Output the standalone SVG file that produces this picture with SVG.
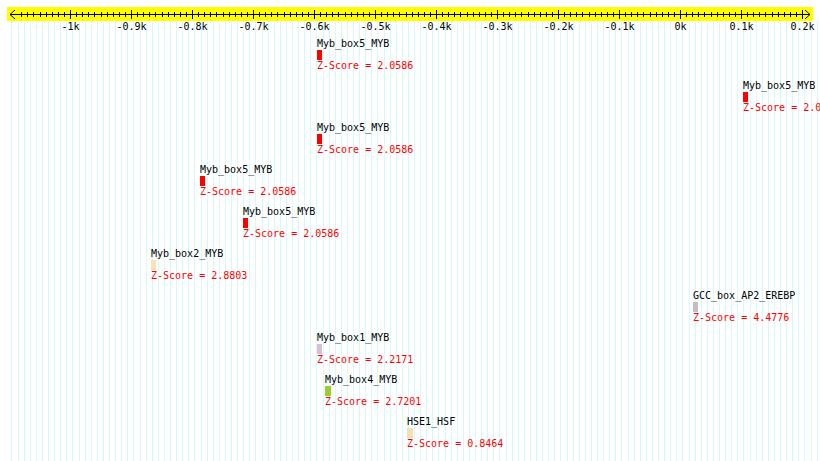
<svg xmlns="http://www.w3.org/2000/svg" width="820" height="461" viewBox="0 0 820 461">
<style>
text{font-family:"DejaVu Sans Mono","Liberation Mono",monospace;font-size:10px}
.lab{fill:#000}
.z{fill:#ff0000}
.ax{fill:#000;text-anchor:middle}
.grid{stroke:#d6fafa;stroke-width:1;fill:none}
.tick{stroke:#000;stroke-width:1;fill:none}
</style>
<rect width="820" height="461" fill="#ffffff"/>
<g id="grid">
<path class="grid" shape-rendering="crispEdges" d="M11.9 21V461M18 21V461M24.1 21V461M30.2 21V461M36.3 21V461M42.4 21V461M48.5 21V461M54.6 21V461M60.7 21V461M66.8 21V461M72.9 21V461M79 21V461M85.1 21V461M91.2 21V461M97.3 21V461M103.4 21V461M109.5 21V461M115.6 21V461M121.7 21V461M127.8 21V461M133.9 21V461M140 21V461M146.1 21V461M152.2 21V461M158.3 21V461M164.4 21V461M170.5 21V461M176.6 21V461M182.7 21V461M188.8 21V461M194.9 21V461M201 21V461M207.1 21V461M213.2 21V461M219.3 21V461M225.4 21V461M231.5 21V461M237.6 21V461M243.7 21V461M249.8 21V461M255.9 21V461M262 21V461M268.1 21V461M274.2 21V461M280.3 21V461M286.4 21V461M292.5 21V461M298.6 21V461M304.7 21V461M310.8 21V461M316.9 21V461M323 21V461M329.1 21V461M335.2 21V461M341.3 21V461M347.4 21V461M353.5 21V461M359.6 21V461M365.7 21V461M371.8 21V461M377.9 21V461M384 21V461M390.1 21V461M396.2 21V461M402.3 21V461M408.4 21V461M414.5 21V461M420.6 21V461M426.7 21V461M432.8 21V461M438.9 21V461M445 21V461M451.1 21V461M457.2 21V461M463.3 21V461M469.4 21V461M475.5 21V461M481.6 21V461M487.7 21V461M493.8 21V461M499.9 21V461M506 21V461M512.1 21V461M518.2 21V461M524.3 21V461M530.4 21V461M536.5 21V461M542.6 21V461M548.7 21V461M554.8 21V461M560.9 21V461M567 21V461M573.1 21V461M579.2 21V461M585.3 21V461M591.4 21V461M597.5 21V461M603.6 21V461M609.7 21V461M615.8 21V461M621.9 21V461M628 21V461M634.1 21V461M640.2 21V461M646.3 21V461M652.4 21V461M658.5 21V461M664.6 21V461M670.7 21V461M676.8 21V461M682.9 21V461M689 21V461M695.1 21V461M701.2 21V461M707.3 21V461M713.4 21V461M719.5 21V461M725.6 21V461M731.7 21V461M737.8 21V461M743.9 21V461M750 21V461M756.1 21V461M762.2 21V461M768.3 21V461M774.4 21V461M780.5 21V461M786.6 21V461M792.7 21V461M798.8 21V461M804.9 21V461M811 21V461M817.1 21V461"/>
</g>
<g id="axis">
<rect x="7" y="7" width="806" height="14" fill="#ffff00"/>
<path class="tick" d="M10 14.5H810M15 10L10 14.5L15 19M805 10L810 14.5L805 19"/>
<path class="tick" shape-rendering="crispEdges" d="M21.7 12V17M27.8 12V17M33.9 12V17M40 12V17M46.1 12V17M52.2 12V17M58.3 12V17M64.4 12V17M76.6 12V17M82.7 12V17M88.8 12V17M94.9 12V17M101 12V17M107.1 12V17M113.2 12V17M119.3 12V17M125.4 12V17M137.6 12V17M143.7 12V17M149.8 12V17M155.9 12V17M162 12V17M168.1 12V17M174.2 12V17M180.3 12V17M186.4 12V17M198.6 12V17M204.7 12V17M210.8 12V17M216.9 12V17M223 12V17M229.1 12V17M235.2 12V17M241.3 12V17M247.4 12V17M259.6 12V17M265.7 12V17M271.8 12V17M277.9 12V17M284 12V17M290.1 12V17M296.2 12V17M302.3 12V17M308.4 12V17M320.6 12V17M326.7 12V17M332.8 12V17M338.9 12V17M345 12V17M351.1 12V17M357.2 12V17M363.3 12V17M369.4 12V17M381.6 12V17M387.7 12V17M393.8 12V17M399.9 12V17M406 12V17M412.1 12V17M418.2 12V17M424.3 12V17M430.4 12V17M442.6 12V17M448.7 12V17M454.8 12V17M460.9 12V17M467 12V17M473.1 12V17M479.2 12V17M485.3 12V17M491.4 12V17M503.6 12V17M509.7 12V17M515.8 12V17M521.9 12V17M528 12V17M534.1 12V17M540.2 12V17M546.3 12V17M552.4 12V17M564.6 12V17M570.7 12V17M576.8 12V17M582.9 12V17M589 12V17M595.1 12V17M601.2 12V17M607.3 12V17M613.4 12V17M625.6 12V17M631.7 12V17M637.8 12V17M643.9 12V17M650 12V17M656.1 12V17M662.2 12V17M668.3 12V17M674.4 12V17M686.6 12V17M692.7 12V17M698.8 12V17M704.9 12V17M711 12V17M717.1 12V17M723.2 12V17M729.3 12V17M735.4 12V17M747.6 12V17M753.7 12V17M759.8 12V17M765.9 12V17M772 12V17M778.1 12V17M784.2 12V17M790.3 12V17M796.4 12V17M70.5 10V19M131.5 10V19M192.5 10V19M253.5 10V19M314.5 10V19M375.5 10V19M436.5 10V19M497.5 10V19M558.5 10V19M619.5 10V19M680.5 10V19M741.5 10V19M802.5 10V19"/>
<text class="ax" x="70.5" y="29.5">-1k</text>
<text class="ax" x="131.5" y="29.5">-0.9k</text>
<text class="ax" x="192.5" y="29.5">-0.8k</text>
<text class="ax" x="253.5" y="29.5">-0.7k</text>
<text class="ax" x="314.5" y="29.5">-0.6k</text>
<text class="ax" x="375.5" y="29.5">-0.5k</text>
<text class="ax" x="436.5" y="29.5">-0.4k</text>
<text class="ax" x="497.5" y="29.5">-0.3k</text>
<text class="ax" x="558.5" y="29.5">-0.2k</text>
<text class="ax" x="619.5" y="29.5">-0.1k</text>
<text class="ax" x="680.5" y="29.5">0k</text>
<text class="ax" x="741.5" y="29.5">0.1k</text>
<text class="ax" x="802.5" y="29.5">0.2k</text>
</g>
<g id="site1"><text class="lab" x="317" y="47">Myb_box5_MYB</text><rect x="317" y="50" width="5" height="10" fill="#ff0000"/><text class="z" x="317" y="69">Z-Score = 2.0586</text></g>
<g id="site2"><text class="lab" x="743" y="89">Myb_box5_MYB</text><rect x="743" y="92" width="5" height="10" fill="#ff0000"/><text class="z" x="743" y="111">Z-Score = 2.0586</text></g>
<g id="site3"><text class="lab" x="317" y="131">Myb_box5_MYB</text><rect x="317" y="134" width="5" height="10" fill="#ff0000"/><text class="z" x="317" y="153">Z-Score = 2.0586</text></g>
<g id="site4"><text class="lab" x="200" y="173">Myb_box5_MYB</text><rect x="200" y="176" width="5" height="10" fill="#ff0000"/><text class="z" x="200" y="195">Z-Score = 2.0586</text></g>
<g id="site5"><text class="lab" x="243" y="215">Myb_box5_MYB</text><rect x="243" y="218" width="5" height="10" fill="#ff0000"/><text class="z" x="243" y="237">Z-Score = 2.0586</text></g>
<g id="site6"><text class="lab" x="151" y="257">Myb_box2_MYB</text><rect x="151" y="260" width="5" height="10" fill="#fde0b8"/><text class="z" x="151" y="279">Z-Score = 2.8803</text></g>
<g id="site7"><text class="lab" x="693" y="299">GCC_box_AP2_EREBP</text><rect x="693" y="302" width="5" height="10" fill="#c0c0c0"/><text class="z" x="693" y="321">Z-Score = 4.4776</text></g>
<g id="site8"><text class="lab" x="317" y="341">Myb_box1_MYB</text><rect x="317" y="344" width="5" height="10" fill="#d8bfd8"/><text class="z" x="317" y="363">Z-Score = 2.2171</text></g>
<g id="site9"><text class="lab" x="325" y="383">Myb_box4_MYB</text><rect x="325" y="386" width="6" height="10" fill="#9acd32"/><text class="z" x="325" y="405">Z-Score = 2.7201</text></g>
<g id="site10"><text class="lab" x="407" y="425">HSE1_HSF</text><rect x="407" y="428" width="6" height="10" fill="#f5deb3"/><text class="z" x="407" y="447">Z-Score = 0.8464</text></g>
</svg>
